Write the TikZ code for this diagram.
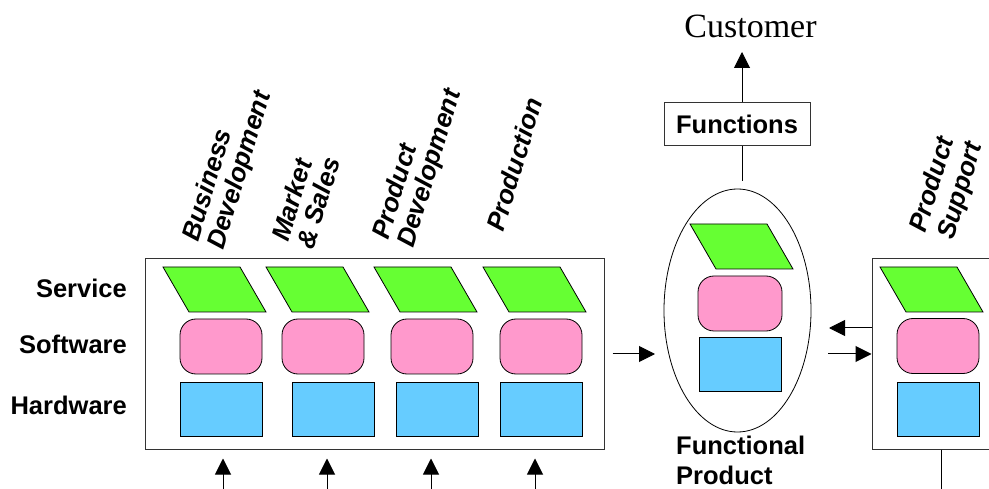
\documentclass[tikz,border=0pt]{standalone}
\usepackage{fontspec}
\setmainfont{Liberation Sans}
\newfontfamily\serifcust{Liberation Serif}
\usetikzlibrary{shapes.geometric,arrows.meta}
\definecolor{srvgreen}{RGB}{102,255,51}
\definecolor{swpink}{RGB}{255,153,204}
\definecolor{hwblue}{RGB}{102,204,255}
\newcommand\mypara[3]{\draw[sv] (#2,#3) -- ++(77,0) -- ++(26,45) -- ++(-77,0) -- cycle; \coordinate (#1) at (#2,#3);}
\begin{document}
\begin{tikzpicture}[x=1pt,y=-1pt,
  lbl/.style={font=\fontsize{25.5}{30}\selectfont\bfseries, inner sep=0},
  rlbl/.style={font=\fontsize{26}{30}\selectfont\bfseries\itshape, inner sep=0, rotate=73, anchor=base west},
  frame/.style={draw=black!80, line width=1pt, inner sep=0},
  sv/.style={fill=srvgreen, draw=black, line width=0.8pt},
  sw/.style={rectangle, rounded corners=16pt, fill=swpink, draw=black, line width=0.8pt, minimum width=82pt, minimum height=55pt, inner sep=0},
  hw/.style={rectangle, fill=hwblue, draw=black, line width=0.8pt, minimum width=82pt, minimum height=54pt, inner sep=0},
  arr/.style={-{Triangle[length=16pt,width=16pt]}, line width=1pt}]
\clip (0,0) rectangle (989,489);
\fill[white] (0,0) rectangle (989,489);
% main box
\node[frame, minimum width=459, minimum height=190] (main) at (374.5,354) {};
\mypara{sv1}{163}{267}
\mypara{sv2}{266}{267}
\mypara{sv3}{374}{267}
\mypara{sv4}{483}{267}
\node[sw] (sw1) at (221,346.5) {};
\node[sw] (sw2) at (323,346.5) {};
\node[sw] (sw3) at (432,346.5) {};
\node[sw] (sw4) at (541,346.5) {};
\node[hw] (hw1) at (221,409) {};
\node[hw] (hw2) at (333,409) {};
\node[hw] (hw3) at (437,409) {};
\node[hw] (hw4) at (541,409) {};
% left labels
\node[lbl, anchor=base east] (svl) at (127,298) {Service};
\node[lbl, anchor=base east] (swl) at (127,353) {Software};
\node[lbl, anchor=base east] (hwl) at (127,414) {Hardware};
% rotated labels
\node[rlbl] (bd1) at (198,243) {Business};
\node[rlbl] (bd2) at (223,251) {Development};
\node[rlbl] (ms1) at (288,243) {Market};
\node[rlbl] (ms2) at (313,251) {\& Sales};
\node[rlbl] (pd1) at (388,241) {Product};
\node[rlbl] (pd2) at (413,249) {Development};
\node[rlbl] (pr) at (503,233) {Production};
\node[rlbl] (ps1) at (925,234) {Product};
\node[rlbl] (ps2) at (953,241) {Support};
% bottom arrows
\foreach \i/\x in {1/223,2/327,3/431,4/535}{
  \coordinate (b\i) at (\x,489);
  \draw[arr, shorten >=9pt] (b\i) -- (b\i |- main.south);
}
% functional product
\node[ellipse, draw, line width=0.8pt, minimum width=147, minimum height=243, inner sep=0] (fp) at (737.5,310.5) {};
\mypara{fsv}{690}{224}
\node[sw, minimum width=84pt] (fsw) at (740,303.5) {};
\node[hw] (fhw) at (740,364) {};
\node[lbl, anchor=base west] (fpl1) at (676,454) {Functional};
\node[lbl, anchor=base west] (fpl2) at (676,484) {Product};
% functions and customer
\node[frame, lbl, minimum width=146, minimum height=43] (fn) at (737,124.5) {Functions};
\node[font=\serifcust\fontsize{34}{40}\selectfont, anchor=base, inner sep=0] (cust) at (750.5,38) {Customer};
\coordinate (ftop) at (742,181);
\coordinate (ctip) at (742,52);
\draw[line width=1pt] (ftop) -- (ftop |- fn.south);
\draw[arr] (ftop |- fn.north) -- (ctip);
% right box
\node[frame, minimum width=130, minimum height=190] (rbox) at (937,354) {};
\mypara{rsv}{880}{267}
\node[sw] (rsw) at (938,346) {};
\node[hw] (rhw) at (938,409) {};
\coordinate (rb) at (941,489);
\draw[line width=1pt] (rb |- rbox.south) -- (rb);
% connectors
\coordinate (fpin) at (655,354);
\draw[arr] ([xshift=8pt]main.east) -- (fpin);
\coordinate (fpout) at (829,328);
\draw[arr] (rbox.west |- fpout) -- (fpout);
\coordinate (fpo2) at (828,354);
\draw[arr] (fpo2) -- (rbox.west);
\end{tikzpicture}
\end{document}
